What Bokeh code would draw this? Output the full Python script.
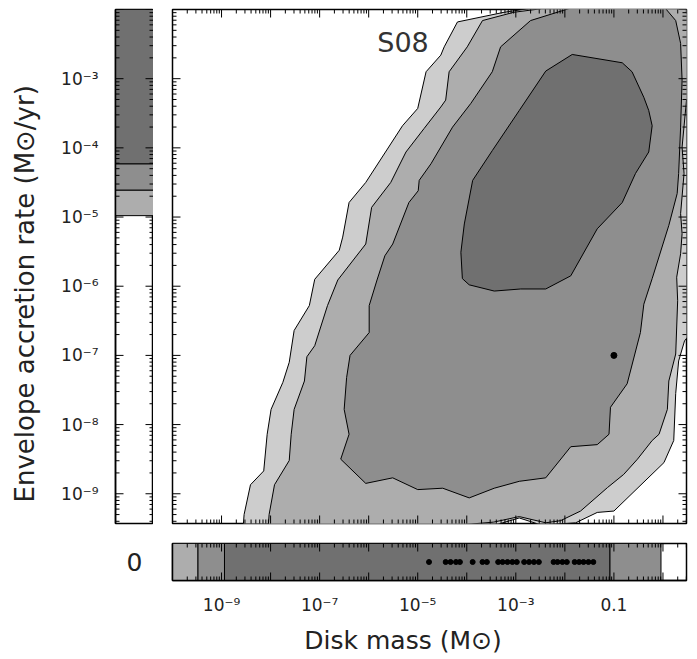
import math
from bokeh.plotting import figure
from bokeh.layouts import column, row
from bokeh.models import Range1d, FixedTicker, Label, LinearAxis, LogAxis
from bokeh.core.properties import value
from bokeh.embed import file_html
from bokeh.resources import INLINE

# ---------------- data (log10 disk mass [Msun], log10 envelope accretion rate [Msun/yr]) -------------
# outermost (lightest) confidence region
c1_lx = [-8.58, -8.54, -8.41, -8.14, -8.07, -7.99, -7.75, -7.62, -7.52, -7.21, -7.10, -6.60, -6.53,
         -6.40, -6.06, -5.31, -5.00, -4.83, -4.53, -4.46, -4.19, -3.24, -2.76, -2.40, 0.77, 0.77,
         0.44, 0.32, 0.26, 0.22, 0.02, -1.00, -1.34, -1.78, -2.49, -2.93, -3.41, -3.92]
c1_ly = [-9.68, -9.30, -8.87, -8.67, -8.14, -7.78, -7.39, -7.10, -6.64, -6.28, -5.90, -5.48, -5.29,
         -4.79, -4.50, -3.68, -3.43, -2.90, -2.66, -2.54, -2.18, -2.04, -1.99, -1.80, -1.80, -6.50,
         -6.79, -7.08, -7.55, -8.23, -8.55, -9.25, -9.27, -9.42, -9.45, -9.35, -9.45, -9.68]
# second region
c2_lx = [-8.07, -8.03, -7.92, -7.62, -7.58, -7.52, -7.31, -7.26, -7.10, -6.84, -6.63, -6.06, -5.94,
         -5.55, -5.24, -4.87, -4.53, -4.43, -4.36, -3.99, -3.68, -3.04, -2.49, -2.20, 0.77, 0.77,
         0.48, 0.39, 0.43, 0.36, 0.39, 0.36, 0.28, 0.30, 0.26, 0.12, 0.09, -0.08, -0.22, -0.52,
         -0.80, -1.13, -1.68, -2.09, -2.39, -2.93, -3.45, -4.12, -4.53]
c2_ly = [-9.68, -9.30, -8.87, -8.52, -8.14, -7.78, -7.37, -7.02, -6.86, -6.28, -5.91, -5.39, -4.86,
         -4.50, -4.06, -3.72, -3.41, -3.31, -2.90, -2.54, -2.16, -2.04, -1.99, -1.80, -1.80, -3.20,
         -3.31, -3.99, -4.37, -4.95, -5.24, -5.53, -5.87, -6.21, -6.98, -7.37, -7.78, -8.14, -8.23,
         -8.50, -8.72, -8.91, -9.25, -9.39, -9.42, -9.33, -9.41, -9.45, -9.68]
# third region
c3_lx = [-6.57, -6.40, -6.50, -6.45, -6.38, -5.99, -5.99, -5.83, -5.67, -5.51, -5.18, -4.99, -4.97,
         -4.73, -4.29, -3.92, -3.48, -3.31, -2.70, -2.02, -1.54, -0.05, 0.26, 0.36, 0.39, 0.36,
         0.32, 0.29, 0.12, -0.22, -0.39, -0.46, -0.73, -1.07, -1.10, -1.34, -1.88, -2.39, -2.93,
         -3.44, -3.95, -4.49, -5.00, -5.51, -6.06]
c3_ly = [-8.50, -8.14, -7.78, -7.32, -7.00, -6.67, -6.28, -5.91, -5.56, -5.39, -4.79, -4.62, -4.47,
         -4.23, -3.70, -3.36, -2.90, -2.54, -2.16, -2.01, -1.90, -1.90, -2.16, -2.49, -3.02, -3.70,
         -4.37, -4.66, -5.12, -5.89, -6.26, -6.67, -7.41, -7.75, -8.14, -8.29, -8.32, -8.77, -8.82,
         -8.92, -9.06, -8.92, -8.94, -8.77, -8.85]
# innermost region
c4_lx = [-1.85, -0.83, -0.63, -0.39, -0.29, -0.22, -0.29, -0.56, -0.83, -1.34, -1.88, -2.39, -2.90,
         -3.44, -3.95, -4.09, -4.12, -4.05, -3.88, -3.48, -2.93, -2.39]
c4_ly = [-2.65, -2.77, -2.90, -3.27, -3.46, -3.68, -4.06, -4.37, -4.79, -5.17, -5.85, -6.04, -6.04,
         -6.07, -5.98, -5.89, -5.51, -5.10, -4.47, -4.04, -3.46, -2.89]

level_colors = ["#cdcdcd", "#adadad", "#8e8e8e", "#707070"]

# best-fit model
best_mass = [0.1]
best_rate = [1e-7]

# bottom strip: models with zero envelope accretion (log10 disk mass)
strip_x_edges = [-10.0, -9.48, -8.94, -1.08, -0.04]
strip_x_colors = ["#adadad", "#8e8e8e", "#707070", "#8e8e8e"]
zero_env_logmass = [-4.77, -4.43, -4.33, -4.22, -4.14, -3.88, -3.68, -3.59, -3.36, -3.27, -3.17,
                    -3.07, -2.98, -2.83, -2.73, -2.63, -2.53, -2.23, -2.15, -2.05, -1.96, -1.80,
                    -1.71, -1.62, -1.52, -1.42]

# left strip: models with zero disk mass (log10 envelope accretion rate)
strip_y_edges = [-4.98, -4.61, -4.23, -2.0]
strip_y_colors = ["#adadad", "#8e8e8e", "#707070"]

X_LOG_RANGE = (-10.0, 0.48)
Y_LOG_RANGE = (-9.43, -2.0)

FONT = "DejaVu Sans"
TXT = "#222222"
SUP = str.maketrans("-0123456789", "⁻⁰¹²³⁴⁵⁶⁷⁸⁹")


def dec(k):
    return float(f"1e{k}")


def p10(vals):
    return [10.0 ** v for v in vals]


x_major = [dec(k) for k in range(-10, 1)]
x_minor = [m * dec(k) for k in range(-10, 1) for m in range(2, 10)]
y_major = [dec(k) for k in range(-10, -1)]
y_minor = [m * dec(k) for k in range(-10, -1) for m in range(2, 10)]
x_labels = {dec(-9): "10" + "-9".translate(SUP), dec(-7): "10" + "-7".translate(SUP),
            dec(-5): "10" + "-5".translate(SUP), dec(-3): "10" + "-3".translate(SUP),
            dec(-1): "0.1"}
y_labels = {dec(k): "10" + str(k).translate(SUP) for k in range(-9, -2)}

MAJOR_LEN = 16   # marker size; half of it lies inside the frame
MINOR_LEN = 8


def label_axis(cls, ticks, labels, standoff, size="17px"):
    ax = cls(ticker=FixedTicker(ticks=ticks, minor_ticks=[]))
    ax.major_tick_in = 0
    ax.major_tick_out = 0
    ax.minor_tick_in = 0
    ax.minor_tick_out = 0
    ax.axis_line_color = "black"
    ax.axis_line_width = 1.5
    ax.major_label_overrides = {t: labels.get(t, "") for t in ticks}
    ax.major_label_text_font_size = size
    ax.major_label_text_font = FONT
    ax.major_label_text_color = TXT
    ax.major_label_standoff = standoff
    return ax


def inner_ticks(fig, ticks, minor, fixed, dim):
    for vals, size in ((ticks, MAJOR_LEN), (minor, MINOR_LEN)):
        if dim == "x":
            fig.scatter(vals, [fixed] * len(vals), marker="dash", angle=math.pi / 2, size=size,
                        line_color="black", line_width=1)
        else:
            fig.scatter([fixed] * len(vals), vals, marker="dash", size=size,
                        line_color="black", line_width=1)


xr = Range1d(10.0 ** X_LOG_RANGE[0], 10.0 ** X_LOG_RANGE[1])
yr = Range1d(10.0 ** Y_LOG_RANGE[0], 10.0 ** Y_LOG_RANGE[1])

common = dict(output_backend="svg", toolbar_location=None, x_axis_location=None,
              y_axis_location=None)


def boxed(fig):
    fig.grid.visible = False
    fig.outline_line_color = "black"
    fig.outline_line_width = 1.5
    return fig


# ---------------- y title panel ----------------
TY = figure(width=45, height=532, x_range=Range1d(0, 1), y_range=yr, y_axis_type="log",
            min_border_left=0, min_border_right=0, min_border_top=9, min_border_bottom=9, **common)
TY.grid.visible = False
TY.outline_line_color = None
TY.text(x=[0.54], y=[10.0 ** -6.11], text=["Envelope accretion rate (M⊙/yr)"],
        angle=math.pi / 2, text_align="center", text_baseline="middle",
        text_font=value(FONT), text_font_size=value("26px"), text_color=TXT)

# ---------------- left strip (zero disk mass) ----------------
L = boxed(figure(width=108, height=532, y_axis_type="log", x_range=Range1d(0, 1), y_range=yr,
                 min_border_left=70, min_border_right=0, min_border_top=9, min_border_bottom=9,
                 **common))
L.quad(left=0, right=1, bottom=p10(strip_y_edges[:-1]), top=p10(strip_y_edges[1:]),
       fill_color=strip_y_colors, line_color="black", line_width=1)
inner_ticks(L, y_major, y_minor, 0, "y")
inner_ticks(L, y_major, y_minor, 1, "y")
L.add_layout(label_axis(LogAxis, y_major, y_labels, standoff=17), "left")

# ---------------- main panel ----------------
M = boxed(figure(width=537, height=532, x_axis_type="log", y_axis_type="log", x_range=xr,
                 y_range=yr, min_border_left=19, min_border_right=4, min_border_top=9,
                 min_border_bottom=9, **common))
for lx, ly, col in zip([c1_lx, c2_lx, c3_lx, c4_lx], [c1_ly, c2_ly, c3_ly, c4_ly], level_colors):
    M.patch(p10(lx), p10(ly), fill_color=col, line_color="black", line_width=1)
M.scatter(best_mass, best_rate, size=6, color="black")
inner_ticks(M, x_major, x_minor, yr.start, "x")
inner_ticks(M, x_major, x_minor, yr.end, "x")
inner_ticks(M, y_major, y_minor, xr.start, "y")
inner_ticks(M, y_major, y_minor, xr.end, "y")
M.add_layout(Label(x=10.0 ** -5.3, y=10.0 ** -2.47, text="S08", text_align="center",
                   text_baseline="middle", text_font_size="27px", text_font=FONT,
                   text_color="#333333"))

# ---------------- bottom strip (zero envelope accretion) ----------------
B = boxed(figure(width=690, height=86, x_axis_type="log", x_range=xr, y_range=Range1d(0, 1),
                 min_border_left=172, min_border_right=4, min_border_top=11, min_border_bottom=38,
                 **common))
B.quad(left=p10(strip_x_edges[:-1]), right=p10(strip_x_edges[1:]), bottom=0, top=1,
       fill_color=strip_x_colors, line_color="black", line_width=1)
B.scatter(p10(zero_env_logmass), [0.5] * len(zero_env_logmass), size=5, color="black")
inner_ticks(B, x_major, x_minor, 0, "x")
inner_ticks(B, x_major, x_minor, 1, "x")
B.add_layout(label_axis(LogAxis, x_major, x_labels, standoff=14), "below")
B.add_layout(label_axis(LinearAxis, [0.5], {0.5: "0"}, standoff=30, size="25px"), "left")

# ---------------- x title panel ----------------
TX = figure(width=690, height=40, x_axis_type="log", x_range=xr, y_range=Range1d(0, 1),
            min_border_left=172, min_border_right=4, min_border_top=0, min_border_bottom=0,
            **common)
TX.grid.visible = False
TX.outline_line_color = None
TX.text(x=[10.0 ** -5.30], y=[0.45], text=["Disk mass (M⊙)"], text_align="center",
        text_baseline="middle", text_font=value(FONT), text_font_size=value("25px"),
        text_color=TXT)

layout = column(row(TY, L, M), B, TX)
open("out.html", "w").write(file_html(layout, INLINE))
